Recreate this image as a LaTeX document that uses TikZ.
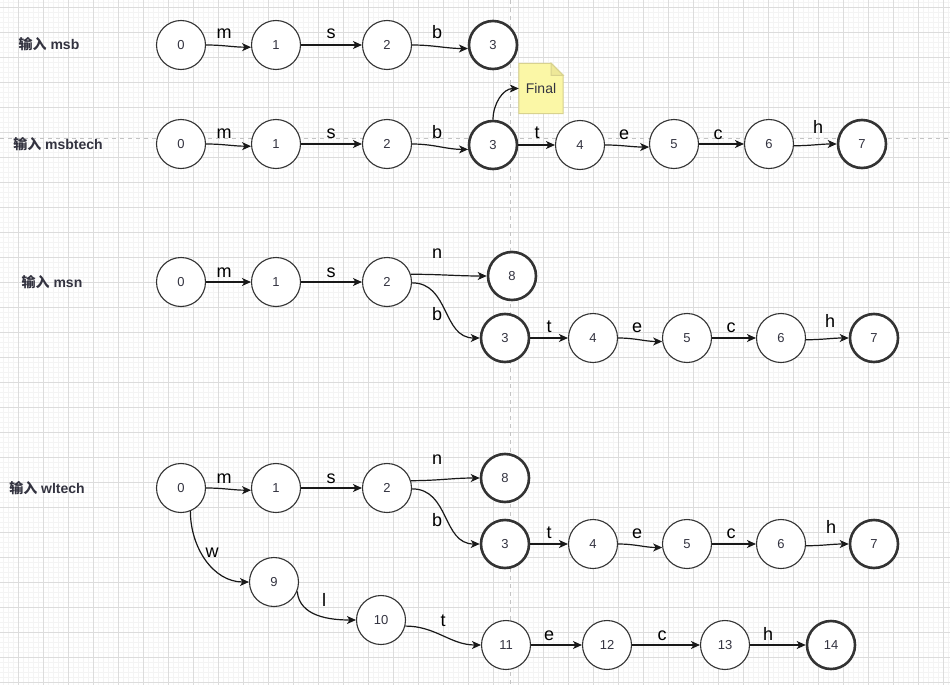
\documentclass[tikz,border=0pt]{standalone}
\usepackage{fontspec}
\setmainfont{Liberation Sans}
\newfontfamily\cjk{Noto Sans CJK SC}
\usetikzlibrary{arrows.meta,backgrounds}
\definecolor{gridmaj}{HTML}{DCDCDC}
\definecolor{gridmin}{HTML}{F4F4F4}
\definecolor{midline}{HTML}{C4C4C4}
\definecolor{nodeline}{HTML}{333333}
\definecolor{numtext}{HTML}{333340}
\definecolor{notefill}{HTML}{FBF7A6}
\definecolor{notefold}{HTML}{EEE898}
\definecolor{noteline}{HTML}{D8D28E}

\begin{document}
\begin{tikzpicture}[x=1pt,y=-1pt,
st/.style={circle,draw=nodeline,fill=white,line width=1.1pt,minimum size=49pt,inner sep=0pt,text=numtext,font=\fontsize{13}{15}\selectfont},
acc/.style={st,line width=2.6pt,minimum size=48pt},
ed/.style={draw=black!90,line width=1.2pt,-{Stealth[length=9pt,width=8pt,inset=2.5pt]}},
lb/.style={anchor=base,inner sep=0pt,font=\fontsize{18}{20}\selectfont},
tag/.style={inner sep=0pt,text=numtext,font=\fontsize{14}{16}\selectfont\bfseries},
notebox/.style={minimum width=44pt,minimum height=50pt,inner sep=0pt,text=numtext,font=\fontsize{14}{16}\selectfont}]
\useasboundingbox (0,0) rectangle (950,685);
\begin{scope}[on background layer]
\fill[white] (0,0) rectangle (950,685);
\foreach \x in {3,8,...,948} \draw[gridmin,line width=0.8pt] (\x,0) -- (\x,685);
\foreach \y in {2.5,7.5,...,682.5} \draw[gridmin,line width=0.8pt] (0,\y) -- (950,\y);
\foreach \x in {18,43,...,943} \draw[gridmaj,line width=0.9pt] (\x,0) -- (\x,685);
\foreach \y in {7.5,32.5,...,682.5} \draw[gridmaj,line width=0.9pt] (0,\y) -- (950,\y);
\draw[midline,line width=1pt,dash pattern=on 4pt off 4pt] (510,0) -- (510,685);
\draw[midline,line width=1pt,dash pattern=on 4pt off 4pt] (0,138) -- (950,138);
\end{scope}

\node[tag] (ta) at (49,44) {{\cjk 输入} msb};
\node[tag] (tb) at (58,144) {{\cjk 输入} msbtech};
\node[tag] (tc) at (52,282) {{\cjk 输入} msn};
\node[tag] (td) at (47,488) {{\cjk 输入} wltech};

\node[st] (a0) at (181,45) {0};
\node[st] (a1) at (276,45) {1};
\node[st] (a2) at (387,45) {2};
\node[acc] (a3) at (493,45) {3};
\draw[ed] (a0.east) to[out=0,in=180] (a1.185);
\draw[ed] (a1) -- (a2);
\draw[ed] (a2.east) to[out=0,in=180] (a3.188);
\node[lb] (am) at (224,39) {m};
\node[lb] (as) at (331,39) {s};
\node[lb] (ab) at (437,39) {b};

\node[st] (b0) at (181,144) {0};
\node[st] (b1) at (276,144) {1};
\node[st] (b2) at (387,144) {2};
\node[acc] (b3) at (493,145) {3};
\node[st] (b4) at (580,145) {4};
\node[st] (b5) at (674,144) {5};
\node[st] (b6) at (769,144) {6};
\node[acc] (b7) at (862,144) {7};
\node[notebox] (fn) at (541,88.5) {Final};
\begin{scope}[on background layer]
\filldraw[fill=notefill,draw=noteline,line width=1pt] (fn.north west) -- ([xshift=-12pt]fn.north east) -- ([yshift=-12pt]fn.north east) -- (fn.south east) -- (fn.south west) -- cycle;
\filldraw[fill=notefold,draw=noteline,line width=1pt] ([xshift=-12pt]fn.north east) -- ([xshift=-12pt,yshift=-12pt]fn.north east) -- ([yshift=-12pt]fn.north east) -- cycle;
\end{scope}
\draw[ed] (b0.east) to[out=0,in=180] (b1.185);
\draw[ed] (b1) -- (b2);
\draw[ed] (b2.east) to[out=0,in=180] (b3.190);
\draw[ed] (b3.north) to[out=90,in=180] (fn.west);
\draw[ed] (b3) -- (b4);
\draw[ed] (b4.east) to[out=0,in=180] (b5.187);
\draw[ed] (b5) -- (b6);
\draw[ed] (b6.-4) to[out=0,in=180] (b7.west);
\node[lb] (bm) at (224,138.5) {m};
\node[lb] (bs) at (331,138.5) {s};
\node[lb] (bb) at (437,138.5) {b};
\node[lb] (bt) at (537,138.5) {t};
\node[lb] (be) at (624,139) {e};
\node[lb] (bc) at (718,139) {c};
\node[lb] (bh) at (818,133) {h};

\node[st] (c0) at (181,282) {0};
\node[st] (c1) at (276,282) {1};
\node[st] (c2) at (387,282) {2};
\node[acc] (c8) at (512,276) {8};
\node[acc] (c3) at (505,338) {3};
\node[st] (c4) at (593,338) {4};
\node[st] (c5) at (687,338) {5};
\node[st] (c6) at (781,338) {6};
\node[acc] (c7) at (874,338) {7};
\draw[ed] (c0) -- (c1);
\draw[ed] (c1) -- (c2);
\draw[ed] (c2.18) to[out=0,in=180] (c8.west);
\draw[ed] (c2.-2) to[out=0,in=180,looseness=1.1] (c3.west);
\draw[ed] (c3) -- (c4);
\draw[ed] (c4.east) to[out=0,in=180] (c5.188);
\draw[ed] (c5) -- (c6);
\draw[ed] (c6.-4) to[out=0,in=180] (c7.west);
\node[lb] (cm) at (224,277) {m};
\node[lb] (cs) at (331,277) {s};
\node[lb] (cn) at (437,258) {n};
\node[lb] (cb) at (437,320) {b};
\node[lb] (ct) at (549,332) {t};
\node[lb] (ce) at (637,332.5) {e};
\node[lb] (cc) at (731,332) {c};
\node[lb] (ch) at (830,327) {h};

\node[st] (d0) at (181,488) {0};
\node[st] (d1) at (276,488) {1};
\node[st] (d2) at (387,488) {2};
\node[acc] (d8) at (505,478) {8};
\node[acc] (d3) at (505,544) {3};
\node[st] (d4) at (593,544) {4};
\node[st] (d5) at (687,544) {5};
\node[st] (d6) at (781,544) {6};
\node[acc] (d7) at (874,544) {7};
\node[st] (d9) at (274,582) {9};
\node[st] (d10) at (381,620) {10};
\node[st] (d11) at (506,645) {11};
\node[st] (d12) at (607,645) {12};
\node[st] (d13) at (725,645) {13};
\node[acc] (d14) at (831,645) {14};
\draw[ed] (d0.east) to[out=0,in=180] (d1.185);
\draw[ed] (d1) -- (d2);
\draw[ed] (d2.17) to[out=0,in=180] (d8.west);
\draw[ed] (d2.-2) to[out=0,in=180,looseness=1.1] (d3.west);
\draw[ed] (d3) -- (d4);
\draw[ed] (d4.east) to[out=0,in=180] (d5.188);
\draw[ed] (d5) -- (d6);
\draw[ed] (d6.-4) to[out=0,in=180] (d7.west);
\draw[ed] (d0.-68) to[out=-90,in=180] (d9.west);
\draw[ed] (d9.-22) to[out=-85,in=180] (d10.west);
\draw[ed] (d10.-14) to[out=0,in=180] (d11.west);
\draw[ed] (d11) -- (d12);
\draw[ed] (d12) -- (d13);
\draw[ed] (d13) -- (d14);
\node[lb] (dm) at (224,483) {m};
\node[lb] (ds) at (331,483) {s};
\node[lb] (dn) at (437,464) {n};
\node[lb] (db) at (437,526.5) {b};
\node[lb] (dt) at (549,538) {t};
\node[lb] (de) at (637,538.5) {e};
\node[lb] (dc) at (731,538) {c};
\node[lb] (dh) at (831,533) {h};
\node[lb] (dw) at (212,557) {w};
\node[lb] (dl) at (324,606.5) {l};
\node[lb] (dt2) at (443,626.5) {t};
\node[lb] (de2) at (549,640) {e};
\node[lb] (dc2) at (662,640) {c};
\node[lb] (dh2) at (768,640) {h};
\end{tikzpicture}
\end{document}
